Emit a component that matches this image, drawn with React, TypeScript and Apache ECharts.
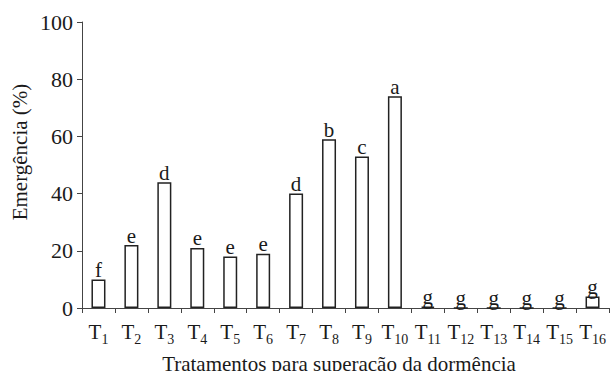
import React, { useEffect, useRef } from "react";
import * as echarts from "echarts";

const categories = ["1", "2", "3", "4", "5", "6", "7", "8", "9", "10", "11", "12", "13", "14", "15", "16"];
const values = [10, 22, 44, 21, 18, 19, 40, 59, 53, 74, 0.5, 0, 0, 0, 0, 4];
const letters = ["f", "e", "d", "e", "e", "e", "d", "b", "c", "a", "g", "g", "g", "g", "g", "g"];
const yTicks = [0, 20, 40, 60, 80, 100];
const xTitle = "Tratamentos para superação da dormência";
const yTitle = "Emergência (%)";

const FONT = "Liberation Serif";

export default function App() {
  const ref = useRef<HTMLDivElement>(null);
  useEffect(() => {
    if (!ref.current) return;
    const chart = echarts.init(ref.current, null, { renderer: "svg" });
    chart.setOption({
      animation: false,
      backgroundColor: "#ffffff",
      grid: { left: 82, right: 1, top: 22, bottom: 63, containLabel: false },
      xAxis: {
        type: "category",
        data: categories,
        boundaryGap: true,
        axisLine: { show: true, lineStyle: { color: "#444", width: 1 } },
        axisTick: { show: true, length: 5, alignWithLabel: false, lineStyle: { color: "#444" } },
        axisLabel: {
          interval: 0,
          margin: 14,
          formatter: (v: string) => `{m|T}{s|${v}}`,
          rich: {
            m: { fontFamily: FONT, fontSize: 21, color: "#1a1a1a", verticalAlign: "bottom", lineHeight: 20 },
            s: { fontFamily: FONT, fontSize: 14, color: "#1a1a1a", verticalAlign: "bottom", lineHeight: 14, padding: [0, 0, -4, 0] },
          },
        },
      },
      yAxis: {
        type: "value",
        min: yTicks[0],
        max: yTicks[yTicks.length - 1],
        interval: 20,
        splitLine: { show: false },
        axisLine: { show: true, lineStyle: { color: "#444", width: 1 } },
        axisTick: { show: true, length: 5, lineStyle: { color: "#444" } },
        axisLabel: { margin: 9, fontFamily: FONT, fontSize: 22, color: "#1a1a1a" },
      },
      graphic: [
        {
          type: "text",
          x: 339,
          y: 364,
          style: { text: xTitle, fontFamily: FONT, fontSize: 21, fill: "#1a1a1a", align: "center", verticalAlign: "middle" },
        },
        {
          type: "text",
          x: 20,
          y: 152,
          rotation: Math.PI / 2,
          style: { text: yTitle, fontFamily: FONT, fontSize: 21, fill: "#1a1a1a", align: "center", verticalAlign: "middle" },
        },
      ],
      series: [
        {
          type: "bar",
          data: values,
          barWidth: 14,
          itemStyle: { color: "#ffffff", borderColor: "#222", borderWidth: 1.5 },
          label: {
            show: true,
            position: "top",
            distance: -1,
            fontFamily: FONT,
            fontSize: 21,
            color: "#1a1a1a",
            formatter: (p: any) => letters[p.dataIndex],
          },
        },
      ],
    });
    return () => chart.dispose();
  }, []);
  return <div ref={ref} style={{ width: 610, height: 371, position: "absolute", left: 0, top: 0 }} />;
}
